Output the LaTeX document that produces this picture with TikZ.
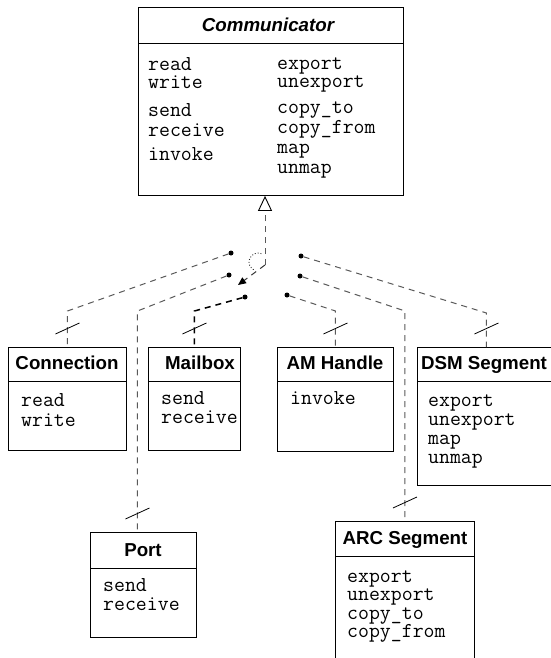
\documentclass[tikz,border=0pt]{standalone}
\usepackage{fontspec}
\setmainfont{Liberation Sans}
\usetikzlibrary{arrows.meta,calc}

\tikzset{
  classbox/.style={draw, line width=0.9bp, anchor=north west, inner sep=0pt},
  classname/.style={font=\fontsize{18.8}{19}\selectfont\bfseries, anchor=base, inner sep=0pt},
  % anchored on the baseline of the last line
  oplist/.style={font=\fontsize{21.3}{#1}\selectfont\ttfamily, align=left, anchor=base west, inner sep=0pt},
  oplist/.default=19,
  link/.style={dash pattern=on 6bp off 5bp, line width=1bp, black!65},
  contact/.style={circle, fill=black, inner sep=0pt, minimum size=5bp},
  tickmark/.style={line width=0.8bp},
}

\begin{document}
\begin{tikzpicture}[x=1bp, y=-1bp]
  \useasboundingbox (0,0) rectangle (551,658);
  \clip (0,0) rectangle (551,658);

  % interface
  \node[classbox, minimum width=265bp, minimum height=188bp] (comm) at (138,7) {};
  \draw[line width=0.9bp] ($(comm.north west)+(0,36)$) -- ($(comm.north east)+(0,36)$);
  \node[classname, font=\fontsize{18.8}{19}\selectfont\bfseries\itshape] (comm-name) at (268,32) {Communicator};
  \node[oplist] (comm-io) at (148,89) {read\\write};
  \node[oplist=20] (comm-msg) at (148,136) {send\\receive};
  \node[oplist] (comm-am) at (148,160) {invoke};
  \node[oplist] (comm-exp) at (277,88) {export\\unexport};
  \node[oplist=20] (comm-copy) at (277,133) {copy\_to\\copy\_from};
  \node[oplist=20] (comm-map) at (277,173) {map\\unmap};

  % implementations
  \node[classbox, minimum width=118bp, minimum height=103bp] (conn) at (8,347) {};
  \node[classbox, minimum width=92bp, minimum height=103bp] (mbox) at (148,347) {};
  \node[classbox, minimum width=116bp, minimum height=104bp] (amh) at (277,347) {};
  \node[classbox, minimum width=138bp, minimum height=138bp] (dsm) at (417,347) {};
  \node[classbox, minimum width=106bp, minimum height=105bp] (port) at (90,532) {};
  \node[classbox, minimum width=139bp, minimum height=160bp] (arc) at (335,521) {};
  \foreach \b/\h in {conn/34,mbox/34,amh/34,dsm/34,port/36,arc/35}
    \draw[line width=0.9bp] ($(\b.north west)+(0,\h)$) -- ($(\b.north east)+(0,\h)$);

  \node[classname] (conn-name) at (67,369) {Connection};
  \node[classname] (mbox-name) at (200,369) {Mailbox};
  \node[classname] (amh-name) at (335,369) {AM Handle};
  \node[classname] (dsm-name) at (484,369) {DSM Segment};
  \node[classname] (port-name) at (143,556) {Port};
  \node[classname] (arc-name) at (405,544) {ARC Segment};

  \node[oplist=20] (conn-ops) at (21,426) {read\\write};
  \node[oplist] (mbox-ops) at (161,423) {send\\receive};
  \node[oplist] (amh-ops) at (290,404) {invoke};
  \node[oplist] (dsm-ops) at (428,463) {export\\unexport\\map\\unmap};
  \node[oplist] (port-ops) at (103,610) {send\\receive};
  \node[oplist=18.5] (arc-ops) at (347,637.5) {export\\unexport\\copy\_to\\copy\_from};

  % switch
  \coordinate (pivot) at (265,265);
  \coordinate (arm) at (238,285);
  \coordinate (bend) at (0,311);
  \coordinate (portin) at ($(port.north)+(-6,0)$);
  \node[contact] (d1) at (231,253) {};
  \node[contact] (d2) at (229,275) {};
  \node[contact] (d3) at (245,297) {};
  \node[contact] (d4) at (301,256) {};
  \node[contact] (d5) at (300,276) {};
  \node[contact] (d6) at (287,295) {};

  \draw[link, -{Triangle[open, length=15bp, width=14bp, black, line width=0.9bp]}] (pivot) -- (pivot |- comm.south);
  \draw[link, black!80, -{Triangle[length=8bp, width=7bp, black]}] (pivot) -- (arm);
  \draw[dotted, line width=0.9bp, black!85] (258,262) ++(292:9) arc[start angle=292, end angle=112, radius=9];

  \draw[link] (d1) -- (conn.north |- bend) -- (conn.north);
  \draw[link] (d2) -- (portin |- bend) -- (portin);
  \draw[link, black, line width=1.5bp] (d3) -- (mbox.north |- bend) -- (mbox.north);
  \draw[link] (d6) -- (amh.north |- bend) -- (amh.north);
  \draw[link] (d5) -- (arc.north |- bend) -- (arc.north);
  \draw[link] (d4) -- ($(dsm.north |- bend)+(0,2)$) -- (dsm.north);

  \foreach \p in {conn.north,mbox.north,amh.north,dsm.north,portin,arc.north}
    \draw[tickmark] ($(\p)+(-12,-13)$) -- ++(24,-11);
\end{tikzpicture}
\end{document}
